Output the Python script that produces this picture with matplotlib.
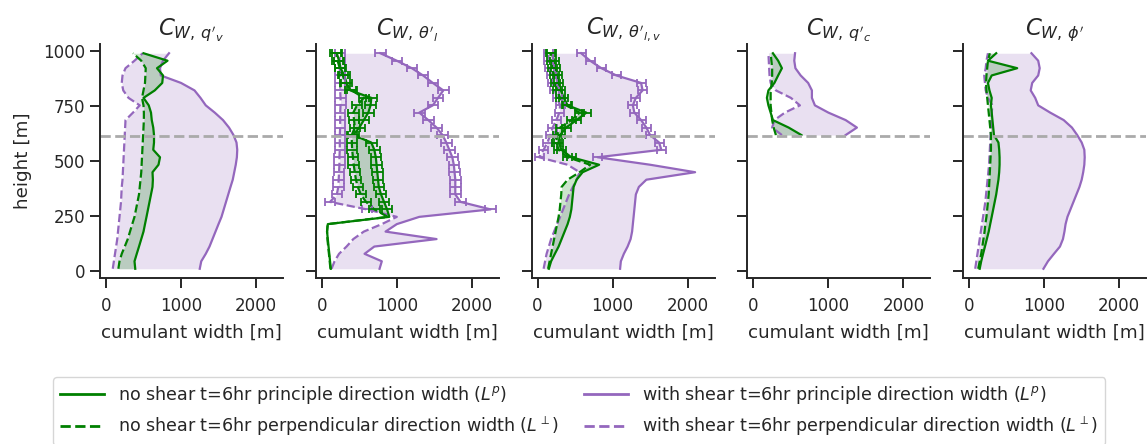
import numpy as np
import matplotlib
matplotlib.use("Agg")
import matplotlib.pyplot as plt
from matplotlib.lines import Line2D

plt.rcParams['font.family'] = ['DejaVu Sans']
plt.rcParams['mathtext.fontset'] = 'dejavusans'

nan = np.nan

# heights [m]
z = [10, 44, 78, 111, 145, 179, 213, 246, 280, 314, 348, 382, 415, 449, 483,
     517, 551, 584, 618, 652, 686, 720, 753, 787, 821, 855, 889, 922, 956, 990]

titles = [r"$C_{W,\,q'_v}$", r"$C_{W,\,\theta'_l}$", r"$C_{W,\,\theta'_{l,v}}$",
          r"$C_{W,\,q'_c}$", r"$C_{W,\,\phi'}$"]

# ---- panel 1: q_v ----
qv_ns_p = [390, 380, 410, 440, 470, 500, 520, 540, 560, 580, 600, 620, 625, 620, 700,
           720, 630, 640, 640, 630, 610, 600, 570, 500, 650, 750, 760, 680, 820, 500]
qv_ns_n = [165, 180, 210, 250, 290, 320, 350, 380, 400, 420, 440, 450, 460, 470, 475,
           480, 485, 490, 495, 500, 505, 505, 500, 480, 500, 520, 525, 530, 470, 360]
qv_ws_p = [1250, 1270, 1330, 1380, 1420, 1460, 1500, 1540, 1570, 1600, 1630, 1660, 1690, 1710, 1730,
           1745, 1750, 1740, 1700, 1640, 1560, 1450, 1330, 1260, 1180, 1000, 730, 720, 760, 840]
qv_ws_n = [90, 105, 120, 135, 150, 160, 170, 180, 190, 200, 205, 210, 220, 225, 230,
           235, 240, 245, 250, 255, 260, 360, 450, 300, 230, 210, 220, 260, 380, 490]

# ---- panel 2: theta_l ----
thl_ns_p = [120, 110, 100, 90, 80, 70, 80, 900, 870, 830, 790, 760, 750, 740, 730,
            720, 700, 660, 420, 500, 560, 620, 650, 660, 380, 330, 300, 250, 230, 200]
thl_ns_n = [115, 105, 95, 85, 75, 70, 78, 880, 700, 590, 520, 480, 455, 440, 425,
            415, 405, 400, 400, 440, 430, 420, 470, 560, 400, 310, 280, 240, 210, 180]
thl_ws_p = [770, 800, 570, 700, 1530, 850, 1000, 1300, 2250, 1850, 1780, 1780, 1780, 1770, 1760,
            1740, 1700, 1660, 1610, 1530, 1420, 1300, 1480, 1550, 1620, 1480, 1350, 1200, 1000, 780]
thl_ws_n = [130, 170, 230, 330, 420, 560, 800, 1000, 600, 110, 200, 220, 225, 230, 235,
            235, 240, 240, 240, 245, 245, 245, 250, 250, 245, 245, 240, 240, 235, 240]
thl_err = [nan, nan, nan, nan, nan, nan, nan, nan, 70, 70, 70, 70, 70, 70, 70,
           70, 70, 70, 70, 70, 70, 70, 70, 70, 70, 70, 70, 70, 70, 70]

# ---- panel 3: theta_lv ----
thlv_ns_p = [150, 180, 230, 280, 320, 360, 400, 430, 450, 460, 470, 480, 520, 600, 820,
             450, 320, 280, 300, 380, 520, 650, 400, 350, 310, 280, 260, 240, 220, 190]
thlv_ns_n = [140, 160, 180, 200, 220, 240, 260, 280, 295, 305, 315, 320, 400, 560, 700,
             400, 280, 250, 260, 300, 450, 560, 380, 300, 260, 240, 220, 200, 190, 170]
thlv_ws_p = [1100, 1110, 1150, 1200, 1240, 1260, 1270, 1280, 1290, 1300, 1310, 1350, 1450, 2100, 1500,
             800, 1650, 1620, 1500, 1450, 1380, 1290, 1270, 1310, 1400, 1380, 1050, 850, 700, 580]
thlv_ws_n = [80, 100, 120, 150, 180, 220, 260, 300, 340, 380, 420, 470, 520, 560, 400,
             20, 80, 130, 170, 200, 250, 290, 300, 260, 230, 200, 180, 160, 150, 140]
thlv_err = [nan, nan, nan, nan, nan, nan, nan, nan, nan, nan, nan, nan, nan, nan, nan,
            60, 60, 60, 60, 60, 60, 60, 60, 60, 60, 60, 60, 60, 60, 60]

# ---- panel 4: q_c ----
qc_ns_p = [nan] * 18 + [640, 470, 260, 230, 200, 180, 200, 280, 330, 380, 330, 260]
qc_ns_n = [nan] * 18 + [300, 270, 250, 240, 230, 230, 230, 245, 250, 250, 240, 230]
qc_ws_p = [nan] * 18 + [1230, 1380, 1230, 1000, 820, 780, 780, 730, 630, 560, 545, 555]
qc_ws_n = [nan] * 18 + [380, 250, 280, 420, 620, 500, 300, 230, 215, 210, 205, 200]

# ---- panel 5: phi ----
phi_ns_p = [140, 160, 185, 210, 235, 260, 280, 300, 320, 340, 360, 375, 390, 400, 405,
            405, 400, 390, 330, 320, 310, 300, 290, 300, 270, 250, 300, 640, 250, 360]
phi_ns_n = [120, 140, 160, 175, 190, 205, 215, 230, 240, 250, 260, 265, 270, 275, 280,
            285, 290, 290, 290, 280, 270, 260, 250, 240, 230, 225, 230, 240, 250, 275]
phi_ws_p = [990, 1050, 1130, 1210, 1250, 1270, 1285, 1310, 1350, 1390, 1430, 1470, 1500, 1520, 1535,
            1540, 1535, 1500, 1440, 1370, 1260, 1080, 920, 880, 820, 840, 920, 940, 920, 830]
phi_ws_n = [80, 95, 110, 125, 140, 155, 170, 185, 200, 215, 225, 235, 245, 255, 265,
            270, 275, 280, 285, 290, 290, 300, 310, 250, 220, 210, 200, 220, 230, 250]

cloud_base = 612

panels = [
    (qv_ns_p, qv_ns_n, qv_ws_p, qv_ws_n, None),
    (thl_ns_p, thl_ns_n, thl_ws_p, thl_ws_n, thl_err),
    (thlv_ns_p, thlv_ns_n, thlv_ws_p, thlv_ws_n, thlv_err),
    (qc_ns_p, qc_ns_n, qc_ws_p, qc_ws_n, None),
    (phi_ns_p, phi_ns_n, phi_ws_p, phi_ws_n, None),
]

legend_labels = [
    r"no shear t=6hr principle direction width ($L^p$)",
    r"no shear t=6hr perpendicular direction width ($L^\perp$)",
    r"with shear t=6hr principle direction width ($L^p$)",
    r"with shear t=6hr perpendicular direction width ($L^\perp$)",
]

GREEN = "green"
PURPLE = "tab:purple"
INK = '#262626'

W, H = 1147, 444
fig = plt.figure(figsize=(W / 100, H / 100), dpi=100)

zz = np.array(z, dtype=float)
for k, (nsp, nsn, wsp, wsn, err) in enumerate(panels):
    left = 100 + 215.8 * k
    ax = fig.add_axes([left / W, (H - 278) / H, 183 / W, 234 / H])
    nsp, nsn, wsp, wsn = (np.array(a, dtype=float) for a in (nsp, nsn, wsp, wsn))
    ax.fill_betweenx(zz, wsn, wsp, color=PURPLE, alpha=0.2, lw=0)
    ax.fill_betweenx(zz, nsn, nsp, color=GREEN, alpha=0.2, lw=0)
    ax.plot(wsp, zz, color=PURPLE, lw=1.6, ls='-')
    ax.plot(wsn, zz, color=PURPLE, lw=1.6, ls='--')
    ax.plot(nsp, zz, color=GREEN, lw=1.6, ls='-')
    ax.plot(nsn, zz, color=GREEN, lw=1.6, ls='--')
    if err is not None:
        e = np.array(err, dtype=float)
        m = np.isfinite(e)
        for arr, col in ((wsp, PURPLE), (wsn, PURPLE), (nsp, GREEN), (nsn, GREEN)):
            ax.errorbar(arr[m], zz[m], xerr=e[m], fmt='none', ecolor=col,
                        elinewidth=1.3, capsize=3, capthick=1.3)
    ax.axhline(cloud_base, color='#aaaaaa', ls='--', lw=2)
    ax.set_xlim(-80, 2360)
    ax.set_ylim(-32, 1032)
    ax.set_xticks([0, 1000, 2000])
    ax.set_yticks([0, 250, 500, 750, 1000])
    ax.tick_params(axis='both', labelsize=12, length=7, width=1.4, color=INK,
                   labelcolor=INK)
    ax.tick_params(axis='x', pad=7)
    for s in ('top', 'right'):
        ax.spines[s].set_visible(False)
    for s in ('left', 'bottom'):
        ax.spines[s].set_linewidth(1.4)
        ax.spines[s].set_color(INK)
    ax.set_xlabel("cumulant width [m]", fontsize=13.2, color=INK, labelpad=6)
    ax.set_title(titles[k], fontsize=16.5, color=INK)
    if k == 0:
        ax.set_ylabel("height [m]", fontsize=13.2, color=INK, labelpad=8)
    else:
        ax.set_yticklabels([])

handles = [
    Line2D([], [], color=GREEN, lw=2, ls='-'),
    Line2D([], [], color=GREEN, lw=2, ls='--'),
    Line2D([], [], color=PURPLE, lw=2, ls='-'),
    Line2D([], [], color=PURPLE, lw=2, ls='--'),
]
fig.legend(handles, legend_labels, ncol=2, loc='upper left', mode='expand',
           bbox_to_anchor=(53 / W, 0, (1105 - 53) / W, 1 - 377 / H),
           borderaxespad=0, fontsize=12.6, handlelength=2.5,
           handletextpad=0.8, labelcolor=INK)

fig.savefig("out.png", dpi=100)
